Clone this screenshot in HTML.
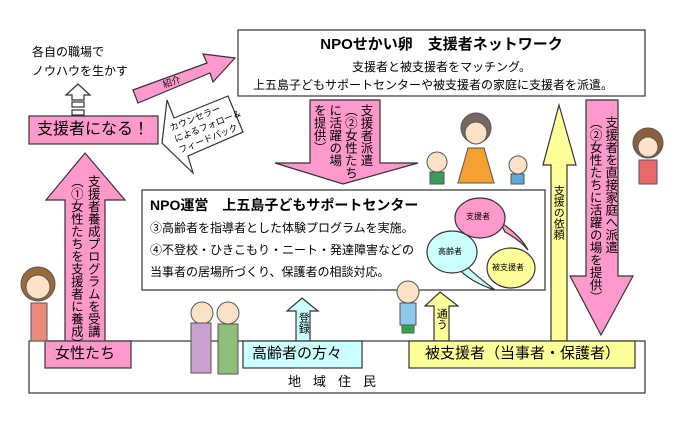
<!DOCTYPE html>
<html><head><meta charset="utf-8"><style>
body{margin:0;width:680px;height:430px;background:#fff;overflow:hidden;position:relative;font-family:"Liberation Sans","Noto Sans CJK JP",sans-serif;color:#000}
svg{position:absolute;left:0;top:0}
.t{position:absolute;white-space:nowrap;line-height:1}
.v{position:absolute;writing-mode:vertical-rl;white-space:nowrap;line-height:1.2;font-family:"Noto Sans CJK JP",sans-serif}
</style></head><body>
<svg width="680" height="430" viewBox="0 0 680 430">
<g stroke="#333" stroke-width="1.2">
<rect x="29" y="341" width="616" height="52" fill="#fff"/>
<rect x="238" y="30" width="407" height="66" fill="#fff"/>
<polygon points="66,95 78,84 90,95 84,95 84,100 72,100 72,95" fill="#fff"/>
<rect x="72" y="102" width="12" height="5" fill="#fff"/>
<rect x="72" y="110" width="12" height="5" fill="#fff"/>
<rect x="29" y="116" width="129" height="28" fill="#ff99cc"/>
<polygon points="85,153 125,200 105,200 105,345 65,345 65,200 46,200" fill="#ff99cc"/>
<rect x="45" y="341" width="86" height="27" fill="#ff99cc"/>
<polygon points="133,90 207,63 203,54 235,58 213,82 210,73 138,103" fill="#ff99cc"/>
<polygon points="162,143 167,100 174,118 228,96 243,132 188,156 193,173" fill="#fff"/>
<polygon points="310,100 380,100 380,163 418,163 343,184 275,163 310,163" fill="#ff99cc"/>
<polygon points="586,100 618,100 618,276 633,276 601,335 570,276 586,276" fill="#ff99cc"/>
<polygon points="559,105 576,165 567,165 567,341 551,341 551,165 543,165" fill="#ffff99"/>
<rect x="142" y="190" width="403" height="100" fill="#fff"/>
<polygon points="302,298 318,311 310,311 310,341 296,341 296,311 287,311" fill="#ccffff"/>
<polygon points="440,292 458,306 449,306 449,341 434,341 434,306 425,306" fill="#ffff99"/>
<rect x="243" y="341" width="119" height="27" fill="#ccffff"/>
<rect x="409" y="341" width="226" height="27" fill="#ffff99"/>
<path d="M500,222 Q520,235 528,250 Q520,240 505,232 Z" fill="#ff99cc"/>
<path d="M462,262 Q475,275 495,290 Q470,282 458,268 Z" fill="#ccffff"/>
<ellipse cx="480" cy="218" rx="25" ry="20" fill="#ff99cc"/>
<ellipse cx="452" cy="252" rx="25" ry="21" fill="#ccffff"/>
<ellipse cx="511" cy="268" rx="24" ry="20" fill="#ffff99"/>
</g>
<g stroke="#555" stroke-width="1">
<circle cx="38" cy="284" r="17" fill="#9a6a3a"/><circle cx="38" cy="287" r="12" fill="#fde2c8"/>
<rect x="31" y="303" width="16" height="38" fill="#e98a7a"/>
<circle cx="202" cy="313" r="11" fill="#fde2c8"/><rect x="191" y="323" width="20" height="50" fill="#c9a0d0"/>
<circle cx="228" cy="313" r="11" fill="#fde2c8"/><rect x="218" y="324" width="20" height="50" fill="#8fbf7a"/>
<circle cx="408" cy="292" r="11" fill="#fde2c8"/><rect x="400" y="303" width="16" height="22" fill="#8ec8ea"/><rect x="402" y="325" width="12" height="8" fill="#2aa84a"/>
<circle cx="476" cy="128" r="15" fill="#7a6660"/><circle cx="476" cy="133" r="11" fill="#fde2c8"/>
<polygon points="468,148 484,148 494,183 458,183" fill="#f5a030"/>
<circle cx="437" cy="162" r="10" fill="#fde2c8"/><rect x="430" y="172" width="14" height="12" fill="#3a9a5a"/>
<circle cx="518" cy="165" r="9" fill="#fde2c8"/><rect x="511" y="174" width="13" height="10" fill="#5aaadc"/>
<circle cx="648" cy="143" r="15" fill="#8a6040"/><circle cx="648" cy="147" r="10" fill="#fde2c8"/>
<rect x="639" y="160" width="18" height="24" fill="#e86a6a"/>
</g>
</svg>

<div class="t" style="left:238px;top:37px;width:407px;text-align:center;font-size:15px;font-weight:bold">NPOせかい卵　支援者ネットワーク</div>
<div class="t" style="left:352px;top:61px;font-size:12px">支援者と被支援者をマッチング。</div>
<div class="t" style="left:253px;top:79px;font-size:12px">上五島子どもサポートセンターや被支援者の家庭に支援者を派遣。</div>
<div class="t" style="left:32px;top:46px;font-size:12px">各自の職場で</div>
<div class="t" style="left:32px;top:65px;font-size:12px">ノウハウを生かす</div>
<div class="t" style="left:37px;top:122px;font-size:16px">支援者になる！</div>
<div class="t" style="left:163px;top:78px;font-size:9px;transform:rotate(-20deg)">紹介</div>
<div class="t" style="left:172px;top:108px;font-size:9px;line-height:12px;transform:rotate(-22deg)">カウンセラー<br>によるフォロー＆<br>フィードバック</div>
<div class="v" style="left:68px;top:175px;font-size:12.5px;line-height:1.35">支援者養成プログラムを受講<br>（①女性たちを支援者に養成）</div>
<div class="t" style="left:55px;top:346px;font-size:15px">女性たち</div>
<div class="v" style="left:312px;top:104px;font-size:12.5px;line-height:1.25">支援者派遣<br>（②女性たち<br>に活躍の場<br>を提供）</div>
<div class="t" style="left:150px;top:198px;font-size:14px;font-weight:bold">NPO運営　上五島子どもサポートセンター</div>
<div class="t" style="left:150px;top:222px;font-size:12px">③高齢者を指導者とした体験プログラムを実施。</div>
<div class="t" style="left:150px;top:244px;font-size:12px">④不登校・ひきこもり・ニート・発達障害などの</div>
<div class="t" style="left:150px;top:266px;font-size:12px">当事者の居場所づくり、保護者の相談対応。</div>
<div class="t" style="left:466px;top:213px;font-size:8px">支援者</div>
<div class="t" style="left:438px;top:248px;font-size:8px">高齢者</div>
<div class="t" style="left:492px;top:264px;font-size:8px">被支援者</div>
<div class="v" style="left:552px;top:185px;font-size:11px">支援の依頼</div>
<div class="v" style="left:588px;top:116px;font-size:12.5px;line-height:1.25">支援者を直接家庭へ派遣<br>（②女性たちに活躍の場を提供）</div>
<div class="v" style="left:297px;top:312px;font-size:11px">登録</div>
<div class="v" style="left:435px;top:308px;font-size:11px">通う</div>
<div class="t" style="left:252px;top:346px;font-size:15px">高齢者の方々</div>
<div class="t" style="left:425px;top:346px;font-size:15px">被支援者（当事者・保護者）</div>
<div class="t" style="left:288px;top:375px;font-size:13px;letter-spacing:12px">地域住民</div>
</body></html>
